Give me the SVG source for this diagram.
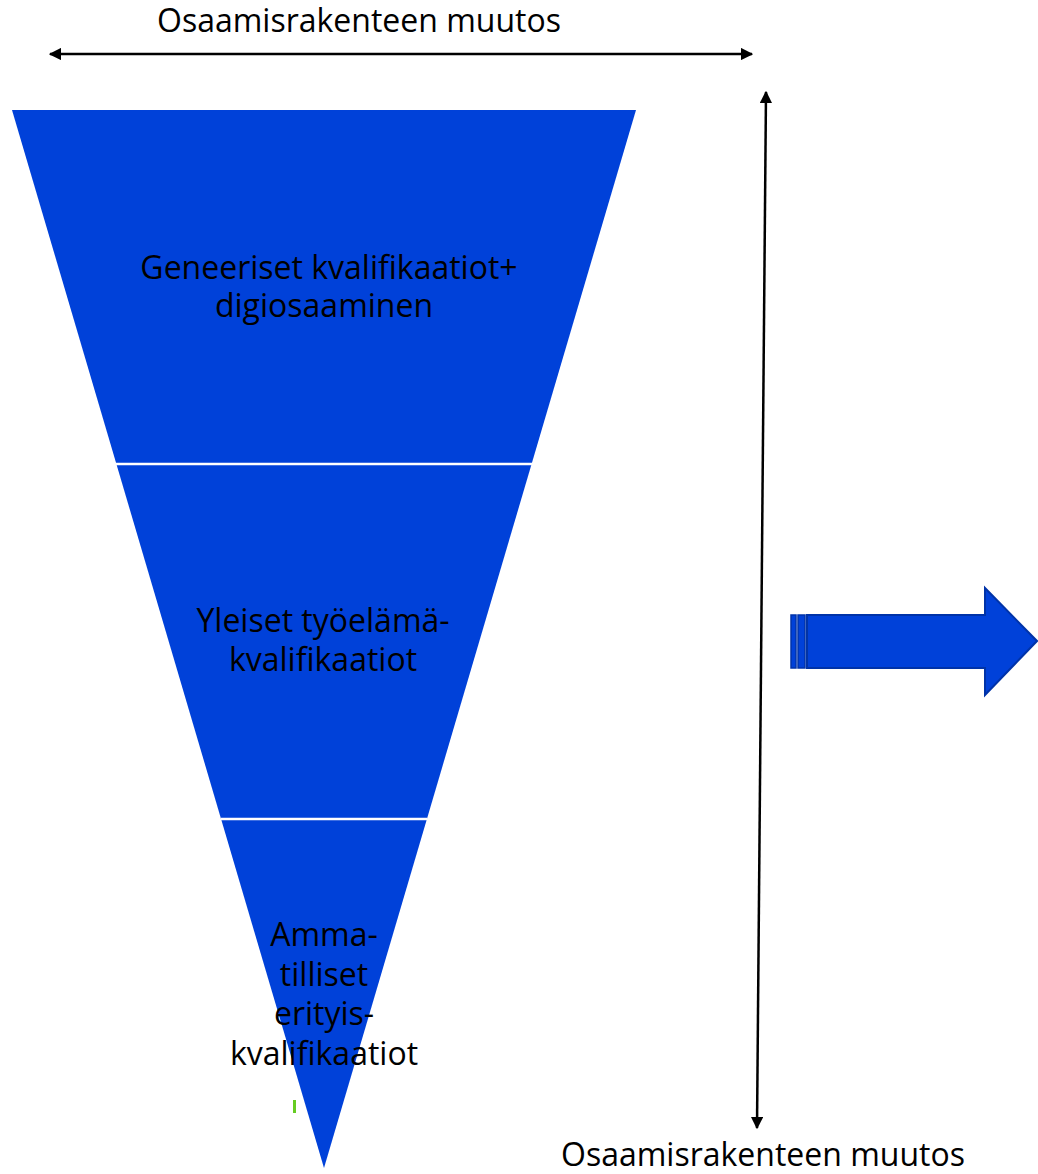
<svg xmlns="http://www.w3.org/2000/svg" width="1038" height="1174" viewBox="0 0 1038 1174">
<defs>
<style>
.t{font-family:"Open Sans","Liberation Sans",sans-serif;font-size:32px;fill:#000;text-anchor:middle}
.ln{stroke:#000;stroke-width:2.5;fill:none}
</style>
<marker id="ah" viewBox="0 0 10 10" refX="9" refY="5" markerWidth="5" markerHeight="5" orient="auto-start-reverse">
<path d="M0,0 L10,5 L0,10 z" fill="#000"/>
</marker>
</defs>
<rect width="1038" height="1174" fill="#fff"/>
<g id="funnel">
<polygon points="12,110 636,110 324,1168" fill="#0041D9"/>
<line x1="116" y1="464" x2="532" y2="464" stroke="#fff" stroke-width="2.5"/>
<line x1="221" y1="819" x2="427" y2="819" stroke="#fff" stroke-width="2.5"/>
</g>
<g id="level1">
<text class="t" x="329" y="279">Geneeriset kvalifikaatiot+</text>
<text class="t" x="324" y="317">digiosaaminen</text>
</g>
<g id="level2">
<text class="t" x="323" y="632">Yleiset työelämä-</text>
<text class="t" x="323" y="671">kvalifikaatiot</text>
</g>
<g id="level3">
<text class="t" x="324" y="946">Amma-</text>
<text class="t" x="324" y="986">tilliset</text>
<text class="t" x="324" y="1025">erityis-</text>
<text class="t" x="324" y="1065">kvalifikaatiot</text>
</g>
<rect x="293" y="1100" width="3" height="13" fill="#66CC22"/>
<g id="connectors">
<line class="ln" x1="50" y1="54" x2="752" y2="54" marker-start="url(#ah)" marker-end="url(#ah)"/>
<line class="ln" x1="766" y1="92" x2="757" y2="1128" marker-start="url(#ah)" marker-end="url(#ah)"/>
</g>
<g id="labels">
<text class="t" x="359" y="32">Osaamisrakenteen muutos</text>
<text class="t" x="763" y="1166">Osaamisrakenteen muutos</text>
</g>
<g id="blockarrow">
<polygon points="807,615 985,615 985,588 1037,641 985,695 985,668 807,668" fill="#0041D9" stroke="#0033A8" stroke-width="2"/>
<rect x="791" y="615" width="5" height="53" fill="#0041D9" stroke="#0033A8" stroke-width="1.5"/>
<rect x="798" y="615" width="7" height="53" fill="#0041D9" stroke="#0033A8" stroke-width="1.5"/>
</g>
</svg>
